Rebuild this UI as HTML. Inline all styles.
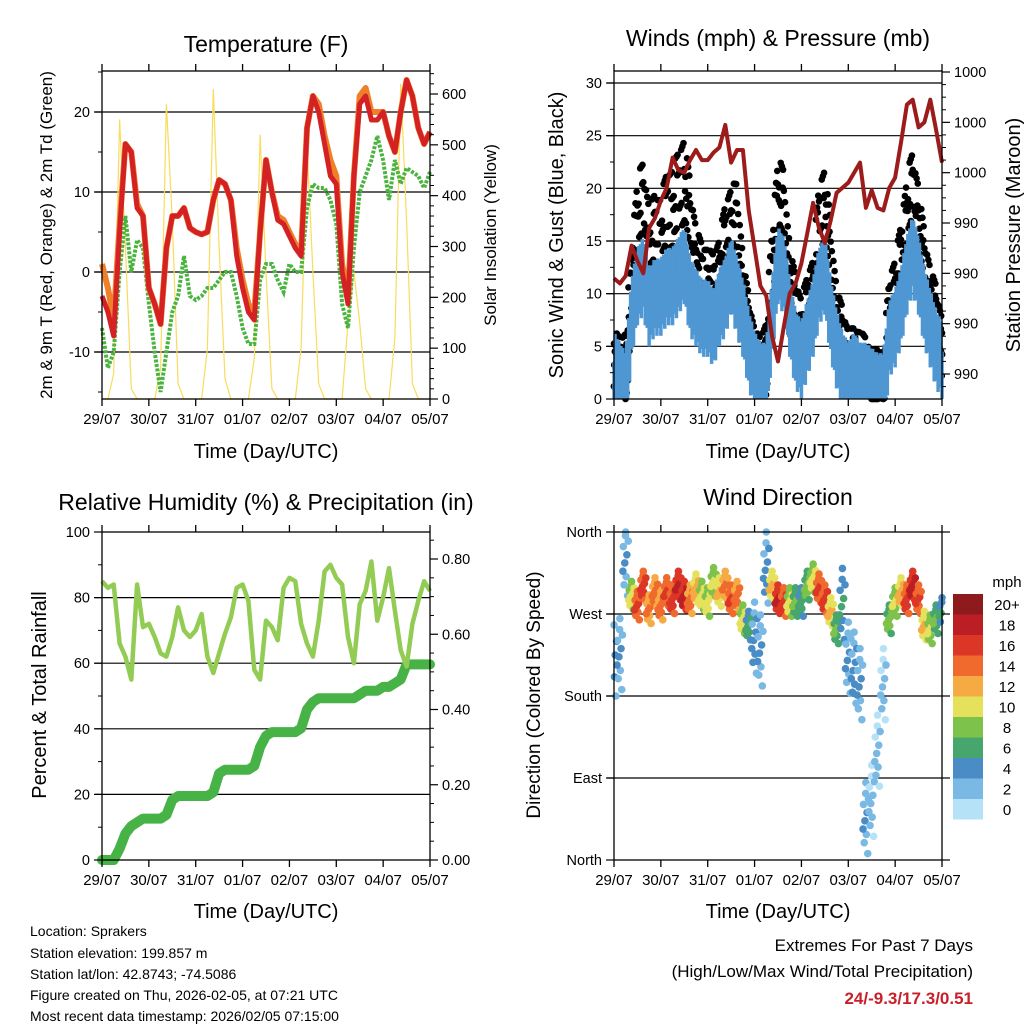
<!DOCTYPE html>
<html><head><meta charset="utf-8"><style>
html,body{margin:0;padding:0;background:#fff}
svg{display:block;font-family:"Liberation Sans",sans-serif}
</style></head><body>
<svg id="s" width="1024" height="1024" viewBox="0 0 1024 1024" xmlns="http://www.w3.org/2000/svg">
<g id="g"></g>
<text x="266" y="52" font-size="23" text-anchor="middle">Temperature (F)</text>
<text x="778" y="46" font-size="23" text-anchor="middle">Winds (mph) &amp; Pressure (mb)</text>
<text x="266" y="510" font-size="23" text-anchor="middle">Relative Humidity (%) &amp; Precipitation (in)</text>
<text x="778" y="505" font-size="23" text-anchor="middle">Wind Direction</text>
<g font-size="20" text-anchor="middle">
<text x="266" y="458">Time (Day/UTC)</text>
<text x="778" y="458">Time (Day/UTC)</text>
<text x="266" y="918">Time (Day/UTC)</text>
<text x="778" y="918">Time (Day/UTC)</text>
</g>
<text transform="translate(52,235) rotate(-90)" font-size="17" text-anchor="middle">2m &amp; 9m T (Red, Orange) &amp; 2m Td (Green)</text>
<text transform="translate(496,235) rotate(-90)" font-size="17" text-anchor="middle">Solar Insolation (Yellow)</text>
<text transform="translate(563,235) rotate(-90)" font-size="20" text-anchor="middle">Sonic Wind &amp; Gust (Blue, Black)</text>
<text transform="translate(1020,235) rotate(-90)" font-size="20" text-anchor="middle">Station Pressure (Maroon)</text>
<text transform="translate(46,695) rotate(-90)" font-size="20" text-anchor="middle">Percent &amp; Total Rainfall</text>
<text transform="translate(540,695) rotate(-90)" font-size="19" text-anchor="middle">Direction (Colored By Speed)</text>
<text x="1007" y="587" font-size="15" text-anchor="middle">mph</text>
<g font-size="14">
<text x="30" y="936">Location: Sprakers</text>
<text x="30" y="958">Station elevation: 199.857 m</text>
<text x="30" y="979">Station lat/lon: 42.8743; -74.5086</text>
<text x="30" y="1000">Figure created on Thu, 2026-02-05, at 07:21 UTC</text>
<text x="30" y="1021">Most recent data timestamp: 2026/02/05 07:15:00</text>
</g>
<g font-size="17" text-anchor="end">
<text x="973" y="951">Extremes For Past 7 Days</text>
<text x="973" y="977">(High/Low/Max Wind/Total Precipitation)</text>
<text x="973" y="1004" fill="#c8202a" font-weight="bold">24/-9.3/17.3/0.51</text>
</g>
</svg>
<script>
const days=['29/07','30/07','31/07','01/07','02/07','03/07','04/07','05/07'];
const temp2m=[-3,-5,-8,5,16,15,8,7,-2,-4,-6.5,3,7,7,8,5.5,5,4.7,5,9,11.5,11,9,2,-2,-5,-6,5,14,10,6.5,6,4.5,3,2,18,22,20,16,12,11,0,-4,12,21,22,19,19,20,17,15,20,24,22,18,16,17.5];
const temp9m=[1,-2,-6,6,16,15,8.5,7,-2,-4,-6.5,3,7,7,8,5.5,5,4.7,5,9,11.5,11,9,3,-1,-4,-5,5,14,10,7,6.5,5,3.5,2.5,18,22,21,17,14,12,1,-3,12,22,23,20,20,20,17,15,20,24,22,18,16,17.5];
const dewpt=[-7,-12,-10,0,7,0,4,3,-4,-10,-15,-10,-5,-3,2,-3,-3.5,-3,-2,-2,-1,0,0,-3,-7,-9,-9,-1,1,1,-1,-2.5,1,0,0,8,11,10.5,10.5,9,6,-4,-7,3,10,12,14,17,14,9,14,11,13,12.5,12,10.5,12.5];
const solar=[0,0,50,550,300,20,0,0, 0,0,60,580,350,30,0,0, 0,0,100,610,300,40,0,0, 0,0,80,520,250,20,0,0, 0,0,100,500,250,30,0,0, 0,0,150,250,150,20,0,0, 0,0,120,620,350,30,0,0, 0];
const wind=[3,2,1,8,11,12,9,10,10,11,11,12,13,10,9,8,8,7,9,10,12,10,8,5,3,2,2,8,13,12,8,5,4,6,8,11,12,8,5,3,2,3,2,2,1.5,1,1,6,7,9,12,14,12,9,7,5,4];
const gust=[5,4,5,13,20,21,17,18,18,20,21,22,24,19,15,13,13,12,14,17,19,19,12,8,5,4,6,15,22,20,13,10,8,10,12,19,21,15,9,7,5,5,5,4,3,3,3,10,12,15,20,22,19,14,11,9,6];
const pressure=[992.8,992.6,992.9,994.1,993.5,993.0,994.8,995.2,995.9,996.4,997.6,997.1,997.0,997.5,997.9,997.5,997.5,997.8,998.0,998.9,997.4,997.9,997.9,995.5,994.0,992.5,992.1,990.5,989.5,990.9,992.2,992.6,993.4,994.6,995.8,994.8,994.2,995.1,996.2,996.4,996.6,997.0,997.4,995.6,996.3,995.6,995.5,996.4,996.8,998.2,999.7,999.9,998.8,999.0,999.9,998.7,997.4];
const pressTicks=[1001,999,997,995,993,991,989];
const pressLabels=['1000','1000','1000','990','990','990','990'];
const rh=[85,83,84,66,62,55,84,71,72,68,63,62,68,77,70,68,70,75,62,57,63,69,74,83,84,79,58,55,73,71,67,83,86,85,72,66,62,73,88,90,86,84,68,60,78,82,91,73,80,89,76,64,59,72,79,85,82];
const precip=[0,0,0,0.03,0.07,0.09,0.10,0.11,0.11,0.11,0.11,0.12,0.16,0.17,0.17,0.17,0.17,0.17,0.17,0.18,0.23,0.24,0.24,0.24,0.24,0.24,0.25,0.30,0.33,0.34,0.34,0.34,0.34,0.34,0.35,0.40,0.42,0.43,0.43,0.43,0.43,0.43,0.43,0.43,0.44,0.45,0.45,0.45,0.46,0.46,0.47,0.48,0.52,0.52,0.52,0.52,0.52];
const direction=[216,223,326,289,278,300,274,293,278,293,285,300,289,285,297,289,282,304,293,300,285,289,263,256,241,227,318,300,285,282,282,282,282,300,308,297,285,271,252,278,219,208,190,43,62,117,190,263,282,293,285,300,285,256,252,263,271];
const legendLabels=['20+','18','16','14','12','10','8','6','4','2','0'];
const legendColors=['#8e1a1c','#bb1e25','#dc3627','#ef6a2c','#f6aa44','#e6e15c','#7dc24b','#46a66e','#4a8dc6','#7ab9e4','#b6e2f7'];

const NS='http://www.w3.org/2000/svg';
const G=document.getElementById('g');
function el(tag,attrs,parent){const e=document.createElementNS(NS,tag);for(const k in attrs)e.setAttribute(k,attrs[k]);(parent||G).appendChild(e);return e;}
const DT=0.125;
function P(x0,y0){return {x0:x0,x1:x0+328,y0:y0,y1:y0+328};}
const TL=P(102,71),TR=P(614,71),BL=P(102,532),BR=P(614,532);
function xs(p,t){return p.x0+t*328/7;}
function lin(d0,d1,r0,r1){return v=>r0+(v-d0)*(r1-r0)/(d1-d0);}
const yT=lin(0,20,272,112), yS=lin(0,600,399,94);
const yW=lin(0,30,399,83), yP=lin(1001,989,72,374);
const yRH=lin(0,100,860,532), yPr=lin(0,0.8,860,559);
const yD=lin(0,360,860,532);
function interp(arr,t){const f=t/DT;const i=Math.max(0,Math.min(arr.length-2,Math.floor(f)));const u=f-i;return arr[i]*(1-u)+arr[i+1]*u;}
function pathOf(p,arr,ys){return arr.map((v,i)=>(i?'L':'M')+xs(p,i*DT).toFixed(1)+','+ys(v).toFixed(1)).join('');}
function line(p,y,name){const l=el('line',{x1:p.x0-7,x2:p.x1,y1:y,y2:y,stroke:'#000','stroke-width':1.2});}
function frame(p,name){
  const r=el('rect',{x:p.x0,y:p.y0,width:328,height:328,fill:'none',stroke:'#000','stroke-width':1.3});
  
  days.forEach((d,i)=>{const x=xs(p,i);
    el('line',{x1:x,x2:x,y1:p.y1,y2:p.y1+7,stroke:'#000','stroke-width':1.3});
    el('line',{x1:x,x2:x,y1:p.y0,y2:p.y0-7,stroke:'#000','stroke-width':1.3});
    const t=el('text',{x:x,y:p.y1+25,'font-size':15,'text-anchor':'middle'});t.textContent=d;
    });
}
function leftTicks(p,vals,ys,labels,minor){
  minor.forEach(v=>el('line',{x1:p.x0-4,x2:p.x0,y1:ys(v),y2:ys(v),stroke:'#000'}));
  vals.forEach((v,i)=>{el('line',{x1:p.x0-8,x2:p.x0,y1:ys(v),y2:ys(v),stroke:'#000','stroke-width':1.2});
    const t=el('text',{x:p.x0-12,y:ys(v)+5,'font-size':14.5,'text-anchor':'end'});t.textContent=labels[i];
    });
}
function rightTicks(p,vals,ys,labels,minor){
  minor.forEach(v=>el('line',{x1:p.x1,x2:p.x1+4,y1:ys(v),y2:ys(v),stroke:'#000'}));
  vals.forEach((v,i)=>{el('line',{x1:p.x1,x2:p.x1+8,y1:ys(v),y2:ys(v),stroke:'#000','stroke-width':1.2});
    const t=el('text',{x:p.x1+12,y:ys(v)+5,'font-size':14.5});t.textContent=labels[i];
    });
}
// ===== Temperature panel
[-10,0,10,20].forEach(v=>line(TL,yT(v),'temp-gridline'));
let e;
e=el('path',{d:pathOf(TL,solar,yS),fill:'none',stroke:'#f9dc5c','stroke-width':1.2});

e=el('path',{d:pathOf(TL,dewpt,yT),fill:'none',stroke:'#4bb43f','stroke-width':4,'stroke-dasharray':'3 1.5'});

e=el('path',{d:pathOf(TL,temp9m,yT),fill:'none',stroke:'#f07f2a','stroke-width':6,'stroke-linejoin':'round'});

e=el('path',{d:pathOf(TL,temp2m,yT),fill:'none',stroke:'#d42224','stroke-width':5,'stroke-linejoin':'round'});

frame(TL,'temperature');
leftTicks(TL,[-10,0,10,20],yT,['-10','0','10','20'],[-15,-5,5,15,25]);
rightTicks(TL,[0,100,200,300,400,500,600],yS,['0','100','200','300','400','500','600'],[20,40,60,80,120,140,160,180,220,240,260,280,320,340,360,380,420,440,460,480,520,540,560,580,620,640]);
// ===== Wind panel
[5,10,15,20,25,30].forEach(v=>line(TR,yW(v),'wind-gridline'));
const gjit=[-1,0.6,-0.3,0.9,-0.7,0.2,-0.5,0.4,-0.9,0.8,-0.15,0.05];
const N=7*48;
for(let k=0;k<=N;k++){const t=k*7/N;const g=interp(gust,t);const w=interp(wind,t);
  for(let m=0;m<3;m++){const j=gjit[(k*5+m*7)%gjit.length];
    const v=Math.max(0,w+(g-w)*(0.55+0.45*j)+j*2);
    const c=el('circle',{cx:xs(TR,t+(m-1)*0.004),cy:yW(v),r:3.3,fill:'#000'});
    }}
for(let k=0;k<=N;k++){const t=k*7/N;const w=interp(wind,t);const j=gjit[(k*3)%gjit.length];
  const s=el('line',{x1:xs(TR,t),x2:xs(TR,t),y1:yW(Math.max(0,w-2.5+j*1.5)),y2:yW(w+2+j*1.5),stroke:'#4f97d2','stroke-width':3.5});
  }
e=el('path',{d:pathOf(TR,wind,yW),fill:'none',stroke:'#4f97d2','stroke-width':5,'stroke-linejoin':'round'});

e=el('path',{d:pathOf(TR,pressure,yP),fill:'none',stroke:'#9c1c1c','stroke-width':4,'stroke-linejoin':'round'});

frame(TR,'wind');
leftTicks(TR,[0,5,10,15,20,25,30],yW,['0','5','10','15','20','25','30'],[2.5,7.5,12.5,17.5,22.5,27.5]);
rightTicks(TR,pressTicks,yP,pressLabels,[1000.5,1000,999.5,998.5,998,997.5,996.5,996,995.5,994.5,994,993.5,992.5,992,991.5,990.5,990,989.5,988.5]);
// ===== RH panel
[20,40,60,80].forEach(v=>line(BL,yRH(v),'rh-gridline'));
e=el('path',{d:pathOf(BL,precip,yPr),fill:'none',stroke:'#47b347','stroke-width':10,'stroke-linejoin':'round','stroke-linecap':'round'});

e=el('path',{d:pathOf(BL,rh,yRH),fill:'none',stroke:'#93cc54','stroke-width':4.5,'stroke-linejoin':'round'});

frame(BL,'rh');
leftTicks(BL,[0,20,40,60,80,100],yRH,['0','20','40','60','80','100'],[10,30,50,70,90]);
rightTicks(BL,[0,0.2,0.4,0.6,0.8],yPr,['0.00','0.20','0.40','0.60','0.80'],[0.05,0.1,0.15,0.25,0.3,0.35,0.45,0.5,0.55,0.65,0.7,0.75,0.85]);
// ===== Direction panel
[90,180,270].forEach(v=>line(BR,yD(v),'direction-gridline'));
function colorFor(s){const k=Math.min(10,Math.max(0,Math.floor(s/2)));return legendColors[10-k];}
const djit=[[-0.05,6],[-0.035,-8],[-0.02,0],[-0.005,10],[0.01,-5],[0.025,3],[0.04,-12],[0.055,8],[-0.06,-3],[0.0,14]];
for(let i=0;i<direction.length;i++){djit.forEach((j,k)=>{const t=i*DT+j[0];if(t<0||t>7)return;
  const spd=(wind[i]+gust[i])/2+(k%3-1);
  const sp=wind[i]<4?3:1.2;
  const c=el('circle',{cx:xs(BR,t),cy:yD(Math.min(360,Math.max(0,direction[i]+j[1]*sp))),r:3.8,fill:colorFor(spd)});
  });}
frame(BR,'direction');
leftTicks(BR,[0,90,180,270,360],yD,['North','East','South','West','North'],[]);
[0,90,180,270,360].forEach(v=>el('line',{x1:BR.x1,x2:BR.x1+8,y1:yD(v),y2:yD(v),stroke:'#000','stroke-width':1.2}));
legendColors.forEach((c,i)=>{const y=594+i*20.5;
  const r=el('rect',{x:953,y:y,width:30,height:20.5,fill:c});
  
  const t=el('text',{x:1007,y:y+16,'font-size':15,'text-anchor':'middle'});t.textContent=legendLabels[i];
  });
</script>
</body></html>
